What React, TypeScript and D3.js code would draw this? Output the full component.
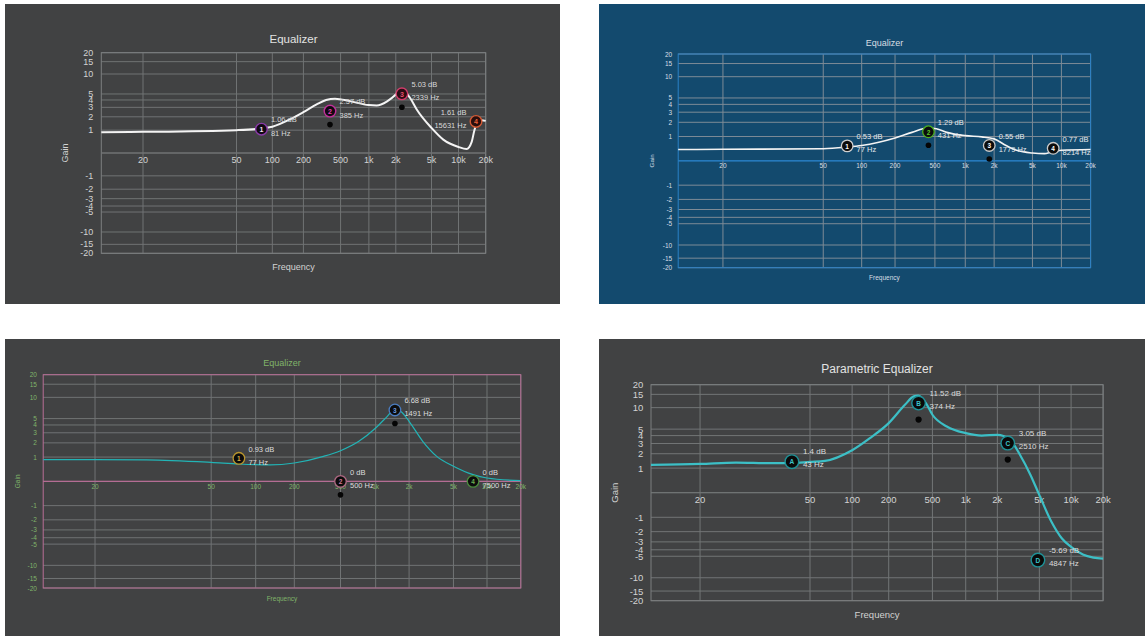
import React from 'react';
import * as d3 from 'd3';

// ---------- shared axis values ----------
const FREQ_TICKS = [20, 50, 100, 200, 500, 1000, 2000, 5000, 10000, 20000];
const FREQ_TICK_LABELS = ['20', '50', '100', '200', '500', '1k', '2k', '5k', '10k', '20k'];
const GAIN_TICKS = [20, 15, 10, 5, 4, 3, 2, 1, 0, -1, -2, -3, -4, -5, -10, -15, -20];
const GAIN_TICK_LABELS = ['20', '15', '10', '5', '4', '3', '2', '1', '', '-1', '-2', '-3', '-4', '-5', '-10', '-15', '-20'];
const GAIN_DOMAIN = [-20, 20];

// ---------- panel 1 ----------
const eq1CurveFreq = [10, 20, 50, 81, 100, 150, 200, 277, 350, 436, 630, 990, 1223, 1600, 2000, 2229, 2450, 2879, 3424, 5000, 6770, 10000, 12330, 14000, 15000, 16500, 18000, 20000];
const eq1CurveGain = [0.88, 0.9, 1.0, 1.1, 1.22, 1.8, 2.46, 3.37, 4.0, 4.2, 3.83, 3.28, 3.22, 3.8, 4.9, 5.75, 5.6, 4.35, 2.75, 1.14, 0.5, 0.2, 0.13, 0.4, 1.0, 1.6, 1.7, 1.65];
const eq1BandFreq = [81, 385, 2339, 15631];
const eq1BandGain = [1.06, 2.57, 5.03, 1.61];
const eq1BandGainText = ['1.06', '2.57', '5.03', '1.61'];
const eq1BandNames = ['1', '2', '3', '4'];

// ---------- panel 2 ----------
const eq2CurveFreq = [10, 20, 50, 77, 100, 200, 295, 423, 517, 655, 1000, 1485, 2000, 2660, 3425, 5000, 6660, 7880, 10000, 20000];
const eq2CurveGain = [0.38, 0.39, 0.41, 0.48, 0.55, 0.92, 1.25, 1.55, 1.5, 1.25, 1.05, 0.98, 0.87, 0.55, 0.35, 0.25, 0.23, 0.29, 0.35, 0.38];
const eq2BandFreq = [77, 431, 1779, 8214];
const eq2BandGain = [0.53, 1.29, 0.55, 0.43];
const eq2BandGainText = ['0.53', '1.29', '0.55', '0.77'];
const eq2BandNames = ['1', '2', '3', '4'];

// ---------- panel 3 ----------
const eq3CurveFreq = [10, 20, 30, 50, 77, 100, 130, 200, 357, 500, 718, 1000, 1273, 1491, 1709, 2000, 2650, 3541, 5000, 7500, 10000, 20000];
const eq3CurveGain = [0.86, 0.86, 0.85, 0.72, 0.64, 0.61, 0.6, 0.69, 1.04, 1.4, 2.14, 3.59, 5.4, 6.9, 6.25, 4.55, 2.14, 1.04, 0.54, 0.21, 0.1, 0.02];
const eq3BandFreq = [77, 500, 1491, 7500];
const eq3BandGain = [0.93, 0, 6.68, 0];
const eq3BandGainText = ['0.93', '0', '6.68', '0'];
const eq3BandNames = ['1', '2', '3', '4'];

// ---------- panel 4 ----------
const eq4CurveFreq = [10, 20, 27, 36, 43, 50, 64, 100, 140, 200, 281, 338, 371, 436, 500, 675, 1000, 1420, 2000, 2614, 3283, 4120, 5000, 6510, 8190, 10000, 12900, 16190, 20000];
const eq4CurveGain = [1.19, 1.25, 1.34, 1.3, 1.3, 1.38, 1.45, 2.31, 3.65, 6.11, 10.9, 14.1, 14.4, 11.5, 8.0, 5.46, 4.36, 4.01, 4.11, 3.5, 1.9, 0.65, -0.07, -1.27, -2.64, -3.61, -4.72, -5.23, -5.41];
const eq4BandFreq = [43, 374, 2510, 4847];
const eq4BandGain = [1.4, 11.52, 3.05, -5.69];
const eq4BandGainText = ['1.4', '11.52', '3.05', '-5.69'];
const eq4BandNames = ['A', 'B', 'C', 'D'];

// ---------- scale layout (piecewise positions of the frequency axis) ----------
const FREQ_STOPS = [10, 20, 50, 100, 200, 500, 1000, 2000, 5000, 10000, 20000];
const FREQ_STOP_POS = [0, 0.1085, 0.3517, 0.4449, 0.5258, 0.6225, 0.6961, 0.7661, 0.859, 0.9292, 1];

const FONT = 'Liberation Sans, Arial, Helvetica, sans-serif';

type Cfg = {
  title: string;
  panel: { x: number; y: number; w: number; h: number; bg: string };
  plot: { l: number; r: number; t: number; b: number };
  titleY: number; titleSize: number; titleColor: string;
  axisColor: string; tickSize: number; yTickGap: number; xTickDy: number;
  gainX: number; gainSize: number; freqY: number; freqSize: number;
  grid: string; border: string; zero: string;
  curveColor: string; curveWidth: number;
  curveF: number[]; curveG: number[];
  bandF: number[]; bandG: number[]; bandGText: string[]; bandNames: string[];
  handleR: number; handleSW: number; handleFont: number;
  handleStroke: string[]; handleText: string[]; handleFill: string[];
  labelSize: number; labelColor: string; labelDx: number; labelDy1: number; labelDy2: number;
  dotR: number; dotDy: number; dotBands: number[];
};

const cfgs: Cfg[] = [
  {
    title: 'Equalizer',
    panel: { x: 5, y: 4, w: 555, h: 300, bg: '#414243' },
    plot: { l: 101.3, r: 485.7, t: 52.7, b: 253.3 },
    titleY: 38.5, titleSize: 11.5, titleColor: '#e2e2e2',
    axisColor: '#d2d2d2', tickSize: 9, yTickGap: 8, xTickDy: 6.5,
    gainX: 65.2, gainSize: 9, freqY: 266.7, freqSize: 9,
    grid: '#707374', border: '#7c7f80', zero: '#707374',
    curveColor: '#f4f4f4', curveWidth: 2,
    curveF: eq1CurveFreq, curveG: eq1CurveGain,
    bandF: eq1BandFreq, bandG: eq1BandGain, bandGText: eq1BandGainText, bandNames: eq1BandNames,
    handleR: 5.8, handleSW: 1.4, handleFont: 7,
    handleStroke: ['#8a3aa8', '#c2309a', '#d03c6a', '#d25a35'],
    handleText: ['#f0e0f4', '#e040b0', '#e8506e', '#e8603a'],
    handleFill: ['#100812', '#120812', '#2a0c14', '#2a0e0c'],
    labelSize: 7.5, labelColor: '#d8d8d8', labelDx: 9.5, labelDy1: -9.2, labelDy2: 4,
    dotR: 2.8, dotDy: 13.5, dotBands: [1, 2],
  },
  {
    title: 'Equalizer',
    panel: { x: 599, y: 4, w: 546, h: 300, bg: '#134a6e' },
    plot: { l: 678.2, r: 1090.6, t: 54, b: 267.7 },
    titleY: 42.7, titleSize: 9, titleColor: '#d6dde3',
    axisColor: '#d8dfe5', tickSize: 6.5, yTickGap: 6, xTickDy: 4.6,
    gainX: 652, gainSize: 6.2, freqY: 277.3, freqSize: 6.5,
    grid: '#7d8b96', border: '#2a80c6', zero: '#2a80c6',
    curveColor: '#f4f4f4', curveWidth: 1.6,
    curveF: eq2CurveFreq, curveG: eq2CurveGain,
    bandF: eq2BandFreq, bandG: eq2BandGain, bandGText: eq2BandGainText, bandNames: eq2BandNames,
    handleR: 5.8, handleSW: 1.3, handleFont: 6.5,
    handleStroke: ['#d0d0d0', '#4caf1e', '#c8c8c8', '#c8c8c8'],
    handleText: ['#ffffff', '#5cc82a', '#ffffff', '#ffffff'],
    handleFill: ['#0c0c0c', '#0c0c0c', '#0c0c0c', '#0c0c0c'],
    labelSize: 7.5, labelColor: '#e4e9ed', labelDx: 9.4, labelDy1: -9.2, labelDy2: 4,
    dotR: 2.8, dotDy: 13.5, dotBands: [1, 2],
  },
  {
    title: 'Equalizer',
    panel: { x: 5, y: 339, w: 555, h: 297, bg: '#414243' },
    plot: { l: 43.2, r: 520.8, t: 374.7, b: 588 },
    titleY: 363, titleSize: 9, titleColor: '#80b46a',
    axisColor: '#80b46a', tickSize: 6.5, yTickGap: 6.3, xTickDy: 5,
    gainX: 17.4, gainSize: 6.5, freqY: 598, freqSize: 6.5,
    grid: '#707374', border: '#b86e96', zero: '#b86e96',
    curveColor: '#22b4b6', curveWidth: 1.2,
    curveF: eq3CurveFreq, curveG: eq3CurveGain,
    bandF: eq3BandFreq, bandG: eq3BandGain, bandGText: eq3BandGainText, bandNames: eq3BandNames,
    handleR: 5.8, handleSW: 1.3, handleFont: 6.5,
    handleStroke: ['#b8952e', '#b06a84', '#4a7cc0', '#4a8c3c'],
    handleText: ['#d8b040', '#d07a9c', '#6a9ae0', '#6ab050'],
    handleFill: ['#0c0c0c', '#0c0c0c', '#0c0c0c', '#0c0c0c'],
    labelSize: 7.5, labelColor: '#dcdcdc', labelDx: 9.5, labelDy1: -9.3, labelDy2: 4,
    dotR: 2.8, dotDy: 13.5, dotBands: [1, 2],
  },
  {
    title: 'Parametric Equalizer',
    panel: { x: 599, y: 339, w: 546, h: 297, bg: '#414243' },
    plot: { l: 651, r: 1103.1, t: 384.7, b: 600.7 },
    titleY: 368.7, titleSize: 12, titleColor: '#e2e2e2',
    axisColor: '#d2d2d2', tickSize: 9.5, yTickGap: 7.6, xTickDy: 7,
    gainX: 614.7, gainSize: 9.5, freqY: 614, freqSize: 9.5,
    grid: '#727576', border: '#7c7f80', zero: '#727576',
    curveColor: '#3cbfc6', curveWidth: 2.2,
    curveF: eq4CurveFreq, curveG: eq4CurveGain,
    bandF: eq4BandFreq, bandG: eq4BandGain, bandGText: eq4BandGainText, bandNames: eq4BandNames,
    handleR: 6.8, handleSW: 1.4, handleFont: 6.5,
    handleStroke: ['#1f9197', '#1f9197', '#1f9197', '#1f9197'],
    handleText: ['#3cc4ca', '#3cc4ca', '#3cc4ca', '#3cc4ca'],
    handleFill: ['#0a0a0a', '#0a0a0a', '#0a0a0a', '#0a0a0a'],
    labelSize: 8, labelColor: '#dcdcdc', labelDx: 11, labelDy1: -9.8, labelDy2: 3.3,
    dotR: 3.1, dotDy: 16.5, dotBands: [1, 2],
  },
];

function Panel({ c }: { c: Cfg }) {
  const { plot, panel } = c;
  const x = d3.scaleLog()
    .domain(FREQ_STOPS)
    .range(FREQ_STOP_POS.map((p) => plot.l + p * (plot.r - plot.l)));
  const y = d3.scaleSymlog().constant(1).domain(GAIN_DOMAIN).range([plot.b, plot.t]);
  const pts = c.curveF.map((f, i) => [f, c.curveG[i]] as [number, number]);
  const line = d3.line<[number, number]>()
    .x((d) => x(d[0]))
    .y((d) => y(d[1]))
    .curve(d3.curveMonotoneX);
  const y0 = y(0);
  const cx = (plot.l + plot.r) / 2;
  return (
    <g fontFamily={FONT}>
      <rect x={panel.x} y={panel.y} width={panel.w} height={panel.h} fill={panel.bg} />
      <text x={cx} y={c.titleY} textAnchor="middle" dominantBaseline="central" fontSize={c.titleSize} fill={c.titleColor}>{c.title}</text>
      {GAIN_TICKS.map((g, i) => (
        <line key={'gy' + i} x1={plot.l} x2={plot.r} y1={y(g)} y2={y(g)} stroke={g === 0 ? c.zero : c.grid} strokeWidth={1} />
      ))}
      {FREQ_TICKS.map((f, i) => (
        <line key={'gx' + i} x1={x(f)} x2={x(f)} y1={plot.t} y2={plot.b} stroke={c.grid} strokeWidth={1} />
      ))}
      <rect x={plot.l} y={plot.t} width={plot.r - plot.l} height={plot.b - plot.t} fill="none" stroke={c.border} strokeWidth={1} />
      <line x1={plot.l} x2={plot.r} y1={y0} y2={y0} stroke={c.zero} strokeWidth={1} />
      {GAIN_TICKS.map((g, i) => (
        GAIN_TICK_LABELS[i] ? (
          <text key={'ty' + i} x={plot.l - c.yTickGap} y={y(g)} textAnchor="end" dominantBaseline="central" fontSize={c.tickSize} fill={c.axisColor}>{GAIN_TICK_LABELS[i]}</text>
        ) : null
      ))}
      {FREQ_TICKS.map((f, i) => (
        <text key={'tx' + i} x={x(f)} y={y0 + c.xTickDy} textAnchor="middle" dominantBaseline="central" fontSize={c.tickSize} fill={c.axisColor}>{FREQ_TICK_LABELS[i]}</text>
      ))}
      <text x={c.gainX} y={y0} textAnchor="middle" dominantBaseline="central" fontSize={c.gainSize} fill={c.axisColor} transform={`rotate(-90 ${c.gainX} ${y0})`}>Gain</text>
      <text x={cx} y={c.freqY} textAnchor="middle" dominantBaseline="central" fontSize={c.freqSize} fill={c.axisColor}>Frequency</text>
      <path d={line(pts) || ''} fill="none" stroke={c.curveColor} strokeWidth={c.curveWidth} strokeLinejoin="round" />
      {c.bandF.map((f, i) => {
        const hx = x(f);
        const hy = y(c.bandG[i]);
        const t1 = `${c.bandGText[i]} dB`;
        const t2 = `${c.bandF[i]} Hz`;
        const estW = Math.max(t1.length, t2.length) * c.labelSize * 0.55;
        const flip = hx + c.labelDx + estW > plot.r + 4;
        const lx = flip ? hx - c.labelDx : hx + c.labelDx;
        const anchor = flip ? 'end' : 'start';
        return (
          <g key={'b' + i}>
            {c.dotBands.includes(i) ? <circle cx={hx} cy={hy + c.dotDy} r={c.dotR} fill="#050505" /> : null}
            <circle cx={hx} cy={hy} r={c.handleR} fill={c.handleFill[i]} stroke={c.handleStroke[i]} strokeWidth={c.handleSW} />
            <text x={hx} y={hy + 0.3} textAnchor="middle" dominantBaseline="central" fontSize={c.handleFont} fontWeight="bold" fill={c.handleText[i]}>{c.bandNames[i]}</text>
            <text x={lx} y={hy + c.labelDy1} textAnchor={anchor} dominantBaseline="central" fontSize={c.labelSize} fill={c.labelColor}>{t1}</text>
            <text x={lx} y={hy + c.labelDy2} textAnchor={anchor} dominantBaseline="central" fontSize={c.labelSize} fill={c.labelColor}>{t2}</text>
          </g>
        );
      })}
    </g>
  );
}

export default function App() {
  return (
    <svg width={1145} height={636} style={{ position: 'absolute', left: 0, top: 0, background: '#ffffff' }}>
      <rect x={0} y={0} width={1145} height={636} fill="#ffffff" />
      {cfgs.map((c, i) => <Panel key={i} c={c} />)}
    </svg>
  );
}
